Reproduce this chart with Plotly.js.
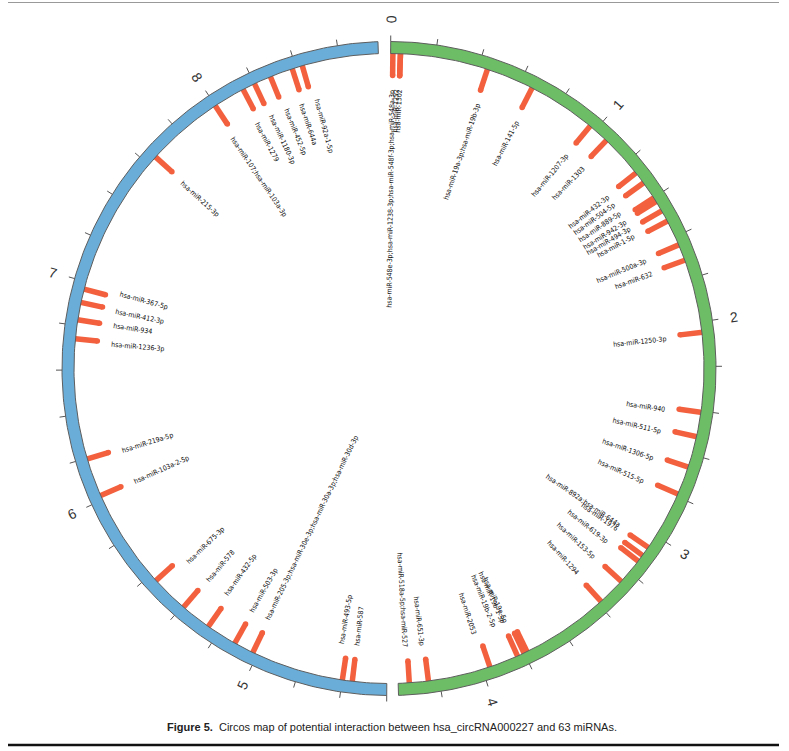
<!DOCTYPE html>
<html><head><meta charset="utf-8">
<script src="https://cdn.plot.ly/plotly-3.0.1.min.js"></script>
<style>html,body{margin:0;padding:0;background:#fff}#chart{width:789px;height:751px}</style>
</head><body><div id="chart"></div>
<script>
// ---------------- DATA ----------------
// circRNA segments (units on the circular axis)
const segStart = [0, 4.4];
const segEnd = [4.385, 8.776];
const segColors = ['#6dbd66', '#6aadd8'];
const tickValues = [0, 1, 2, 3, 4, 5, 6, 7, 8];
const tickLabels = ['0', '1', '2', '3', '4', '5', '6', '7', '8'];

// green segment miRNAs
const greenMiRNA = [
  'hsa-miR-548e-3p;hsa-miR-1238-3p;hsa-miR-548f-3p;hsa-miR-548a-3p',
  'hsa-miR-1252', 'hsa-miR-1302',
  'hsa-miR-19a-3p;hsa-miR-19b-3p', 'hsa-miR-141-5p', 'hsa-miR-1207-3p', 'hsa-miR-1303',
  'hsa-miR-432-3p', 'hsa-miR-504-5p', 'hsa-miR-889-5p', 'hsa-miR-942-3p', 'hsa-miR-494-3p', 'hsa-miR-1-5p',
  'hsa-miR-500a-3p', 'hsa-miR-632', 'hsa-miR-1250-3p',
  'hsa-miR-940', 'hsa-miR-511-5p', 'hsa-miR-1306-5p', 'hsa-miR-515-5p',
  'hsa-miR-892a;hsa-miR-644a', 'hsa-miR-1976', 'hsa-miR-619-3p', 'hsa-miR-153-5p', 'hsa-miR-1294',
  'hsa-miR-19a-5p', 'hsa-miR-19b-1-5p', 'hsa-miR-19b-2-5p', 'hsa-miR-2053',
  'hsa-miR-651-3p', 'hsa-miR-518a-5p;hsa-miR-527'
];
const greenSitePos = [
  0.010, 0.044, 0.044,
  0.441, 0.658, 0.970, 1.067,
  1.264, 1.320, 1.401, 1.421, 1.470, 1.522,
  1.640, 1.714, 2.047,
  2.406, 2.517, 2.658, 2.788,
  3.062, 3.106, 3.138, 3.256, 3.384,
  3.786, 3.801, 3.833, 3.966,
  4.249, 4.335
];
const greenLabelPos = [
  0.012, 0.032, 0.049,
  0.453, 0.670, 0.973, 1.079,
  1.271, 1.325, 1.374, 1.426, 1.470, 1.510,
  1.650, 1.722, 2.059,
  2.419, 2.530, 2.675, 2.800,
  3.052, 3.076, 3.158, 3.261, 3.379,
  3.818, 3.830, 3.884, 3.988,
  4.261, 4.345
];

// blue segment miRNAs
const blueMiRNA = [
  'hsa-miR-587', 'hsa-miR-493-5p',
  'hsa-miR-205-3p;hsa-miR-30e-3p;hsa-miR-30a-3p;hsa-miR-30d-3p',
  'hsa-miR-503-3p', 'hsa-miR-432-5p', 'hsa-miR-578', 'hsa-miR-675-3p',
  'hsa-miR-103a-2-5p', 'hsa-miR-219a-5p',
  'hsa-miR-1236-3p', 'hsa-miR-934', 'hsa-miR-412-3p', 'hsa-miR-367-5p',
  'hsa-miR-215-3p', 'hsa-miR-107;hsa-miR-103a-3p', 'hsa-miR-1279', 'hsa-miR-1180-3p',
  'hsa-miR-452-5p', 'hsa-miR-644a', 'hsa-miR-92a-1-5p'
];
const blueSitePos = [
  4.555, 4.600,
  5.021,
  5.112, 5.252, 5.393, 5.565,
  6.021, 6.196,
  6.740, 6.826, 6.905, 6.966,
  7.646, 7.999, 8.144, 8.201,
  8.279, 8.383, 8.430
];
const blueLabelPos = [
  4.550, 4.629,
  5.026,
  5.114, 5.269, 5.385, 5.521,
  6.013, 6.183,
  6.725, 6.821, 6.897, 6.986,
  7.637, 7.979, 8.124, 8.206,
  8.289, 8.368, 8.452
];

const captionBold = 'Figure 5.';
const captionText = 'Circos map of potential interaction between hsa_circRNA000227 and 63 miRNAs.';

// ---------------- GEOMETRY / STYLE ----------------
const W = 789, H = 751, CXPX = 389, CYPX = 368.5;
const R_OUT = 327, R_IN = 315, TICK_LEN = 6;
const BAR_OUT = 320, BAR_IN = 293, LABEL_R = 279, NUM_R = 349;
const DEG_PER_UNIT = 40.6, START_DEG = 0.3, SEG_GAP_DEG = 1.46;
const BAR_COLOR = '#f2603e';

const ctx = document.createElement('canvas').getContext('2d');
function measure(font, s) { ctx.font = font; return ctx.measureText(s).width; }
// pick a condensed face if one is installed, sized so label widths match the figure
const probe = 'hsa-miR-1250-3p mmwwii';
function installed(fam) {
  return Math.abs(measure('20px "' + fam + '", monospace', probe) - measure('20px monospace', probe)) > 0.5;
}
const candidates = ['Liberation Sans Narrow', 'DejaVu Sans Condensed', 'Liberation Sans'];
const LABEL_FAMILY = candidates.find(installed) || 'Liberation Sans';
const TARGET_W = 53.5; // width of "hsa-miR-1250-3p" in the figure
const LABEL_SIZE = Math.min(9, 10 * TARGET_W / measure('10px "' + LABEL_FAMILY + '"', 'hsa-miR-1250-3p'));

function textW(s) { return measure(LABEL_SIZE + 'px "' + LABEL_FAMILY + '"', s); }
function ang(pos, seg) { return START_DEG + pos * DEG_PER_UNIT + (seg === 1 ? SEG_GAP_DEG : 0); }
function pt(deg, r) { const a = deg * Math.PI / 180; return [r * Math.sin(a), r * Math.cos(a)]; }
// radial text orientation: right half reads outward, left half reads inward
function radialAngle(deg, seg) { return seg === 0 ? deg - 90 : deg - 270; }

const traces = [];
const annotations = [];

// bars (drawn first so the ring covers their outer ends)
const bx = [], by = [], cx = [], cy = [];
[greenSitePos, blueSitePos].forEach((arr, seg) => {
  arr.forEach(p => {
    const a = ang(p, seg);
    const o = pt(a, BAR_OUT), i = pt(a, BAR_IN);
    bx.push(o[0], i[0], null); by.push(o[1], i[1], null);
    cx.push(i[0]); cy.push(i[1]);
  });
});
traces.push({type: 'scatter', mode: 'lines', x: bx, y: by, line: {color: BAR_COLOR, width: 5.5}, hoverinfo: 'skip'});
traces.push({type: 'scatter', mode: 'markers', x: cx, y: cy, marker: {color: BAR_COLOR, size: 5.5}, hoverinfo: 'skip'});

// ring segments
for (let s = 0; s < 2; s++) {
  const xs = [], ys = [];
  const n = 240;
  for (let i = 0; i <= n; i++) {
    const p = segStart[s] + (segEnd[s] - segStart[s]) * i / n;
    const q = pt(ang(p, s), R_OUT); xs.push(q[0]); ys.push(q[1]);
  }
  for (let i = n; i >= 0; i--) {
    const p = segStart[s] + (segEnd[s] - segStart[s]) * i / n;
    const q = pt(ang(p, s), R_IN); xs.push(q[0]); ys.push(q[1]);
  }
  xs.push(xs[0]); ys.push(ys[0]);
  traces.push({type: 'scatter', mode: 'lines', x: xs, y: ys, fill: 'toself', fillcolor: segColors[s],
    line: {color: '#5e5e5e', width: 1}, hoverinfo: 'skip'});
}

// minor ticks every 0.2 units
const tx = [], ty = [];
for (let s = 0; s < 2; s++) {
  for (let k = Math.round(segStart[s] * 5); k / 5 <= segEnd[s] + 1e-9; k++) {
    const a = ang(k / 5, s);
    const o = pt(a, R_OUT), e = pt(a, R_OUT + TICK_LEN);
    tx.push(o[0], e[0], null); ty.push(o[1], e[1], null);
  }
}
traces.push({type: 'scatter', mode: 'lines', x: tx, y: ty, line: {color: '#555', width: 1}, hoverinfo: 'skip'});

// tick numbers (radial orientation)
tickValues.forEach((v, i) => {
  const s = v >= segStart[1] ? 1 : 0;
  const a = ang(v, s);
  const q = pt(a, NUM_R);
  annotations.push({x: q[0], y: q[1], xref: 'x', yref: 'y', text: tickLabels[i], showarrow: false,
    xanchor: 'center', yanchor: 'middle', textangle: radialAngle(a, s),
    font: {family: 'Liberation Sans, Arial, sans-serif', size: 14, color: '#333'}});
});

// miRNA labels
function addLabels(names, pos, seg) {
  names.forEach((nm, i) => {
    const a = ang(pos[i], seg);
    const w = textW(nm);
    const q = pt(a, LABEL_R - w / 2);
    annotations.push({x: q[0], y: q[1], xref: 'x', yref: 'y', text: nm, showarrow: false,
      xanchor: 'center', yanchor: 'middle', textangle: radialAngle(a, seg),
      font: {family: LABEL_FAMILY + ', Liberation Sans, sans-serif', size: LABEL_SIZE, color: '#0d0d0d'}});
  });
}
addLabels(greenMiRNA, greenLabelPos, 0);
addLabels(blueMiRNA, blueLabelPos, 1);

// caption
annotations.push({xref: 'paper', yref: 'paper', x: 392 / W, y: 1 - 727 / H, xanchor: 'center', yanchor: 'middle',
  showarrow: false, text: '<b>' + captionBold + '</b>  ' + captionText,
  font: {family: 'Liberation Sans, Arial, sans-serif', size: 11, color: '#222'}});

const layout = {
  width: W, height: H,
  margin: {l: 0, r: 0, t: 0, b: 0},
  paper_bgcolor: '#fff', plot_bgcolor: '#fff',
  showlegend: false,
  xaxis: {range: [-CXPX, W - CXPX], visible: false, fixedrange: true},
  yaxis: {range: [CYPX - H, CYPX], visible: false, fixedrange: true},
  annotations: annotations,
  shapes: [
    {type: 'line', xref: 'paper', yref: 'paper', x0: 8 / W, x1: 779 / W, y0: 1 - 2.5 / H, y1: 1 - 2.5 / H,
      line: {color: '#999', width: 1}},
    {type: 'line', xref: 'paper', yref: 'paper', x0: 8 / W, x1: 779 / W, y0: 1 - 745 / H, y1: 1 - 745 / H,
      line: {color: '#111', width: 2.5}}
  ]
};

Plotly.newPlot('chart', traces, layout, {displayModeBar: false, staticPlot: true});
</script>
</body></html>
